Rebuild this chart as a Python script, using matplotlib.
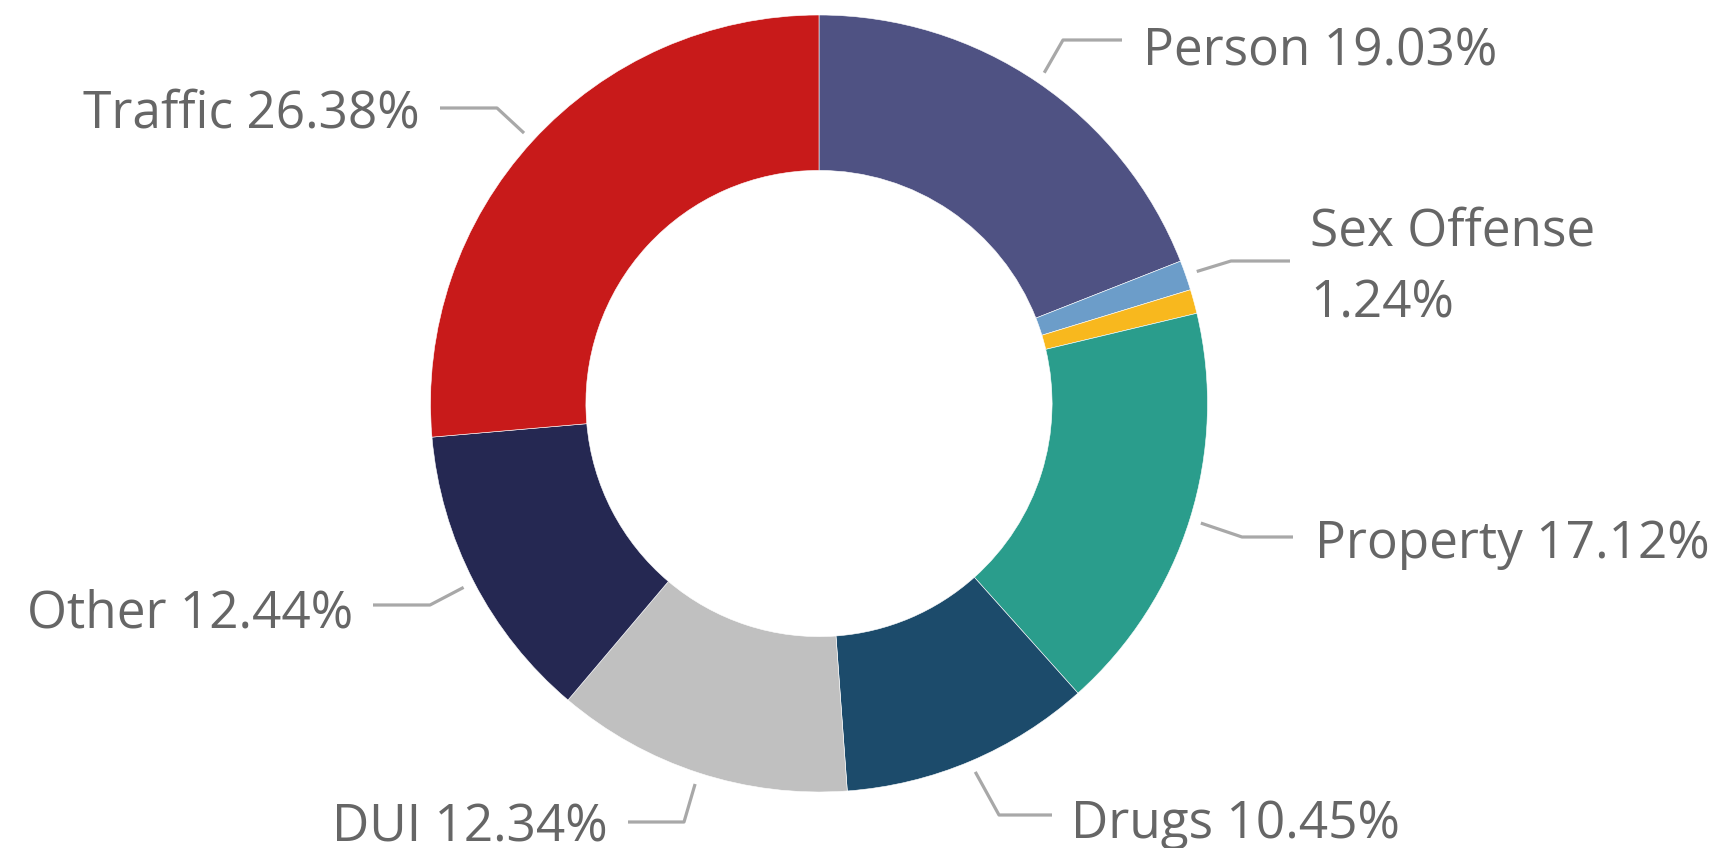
import numpy as np
import matplotlib
matplotlib.use("Agg")
import matplotlib.pyplot as plt

categories = ["Person", "Sex Offense", "", "Property", "Drugs", "DUI", "Other", "Traffic"]
values = [19.03, 1.24, 1.00, 17.12, 10.45, 12.34, 12.44, 26.38]
labels = ["Person 19.03%", "Sex Offense\n1.24%", "", "Property 17.12%", "Drugs 10.45%",
          "DUI 12.34%", "Other 12.44%", "Traffic 26.38%"]
colors = ["#4F5283", "#6C9DC9", "#F8B81E", "#2A9D8C", "#1C4B6B", "#C0C0C0", "#252852", "#C81A1A"]

W, H = 1722, 848
fig = plt.figure(figsize=(W / 100, H / 100), dpi=100)
ax = fig.add_axes([0, 0, 1, 1])
ax.set_xlim(0, W)
ax.set_ylim(0, H)
ax.set_aspect("equal")
ax.axis("off")

cx, cy, R = 819, H - 403.5, 388.5
wedges, _ = ax.pie(values, colors=colors, startangle=90, counterclock=False,
                   center=(cx, cy), radius=R,
                   wedgeprops=dict(width=R * 0.40, edgecolor="white", linewidth=0.4))
ax.set_xlim(0, W)
ax.set_ylim(0, H)

# label layout: (elbow x, elbow y, line end x, text x, text baseline y, ha)
layout = {
    0: (1063, 40, 1122, 1143, 65, "left"),
    1: (1231, 261, 1290, 1310, 245, "left"),
    3: (1242, 537, 1293, 1315, 558, "left"),
    4: (999, 815, 1052, 1071, 838, "left"),
    5: (684, 822, 628, 608, 842, "right"),
    6: (430, 605, 373, 353, 627, "right"),
    7: (497, 108, 440, 420, 128, "right"),
}

font = dict(family=["Open Sans", "DejaVu Sans"], color="#666666", fontsize=37)
line_kw = dict(color="#A8A8A8", lw=2.3, solid_capstyle="butt")
for i, w in enumerate(wedges):
    if i not in layout:
        continue
    ex, ey, lx, tx, ty, ha = layout[i]
    mid = np.deg2rad((w.theta1 + w.theta2) / 2)
    sx = cx + R * 1.03 * np.cos(mid)
    sy = cy + R * 1.03 * np.sin(mid)
    ax.plot([sx, ex, lx], [sy, H - ey, H - ey], **line_kw)
    lines = labels[i].split("\n")
    for k, t in enumerate(lines):
        ax.text(tx, H - ty - k * 73, t, ha=ha, va="baseline", **font)

fig.savefig("out.png", dpi=100, facecolor="white")
